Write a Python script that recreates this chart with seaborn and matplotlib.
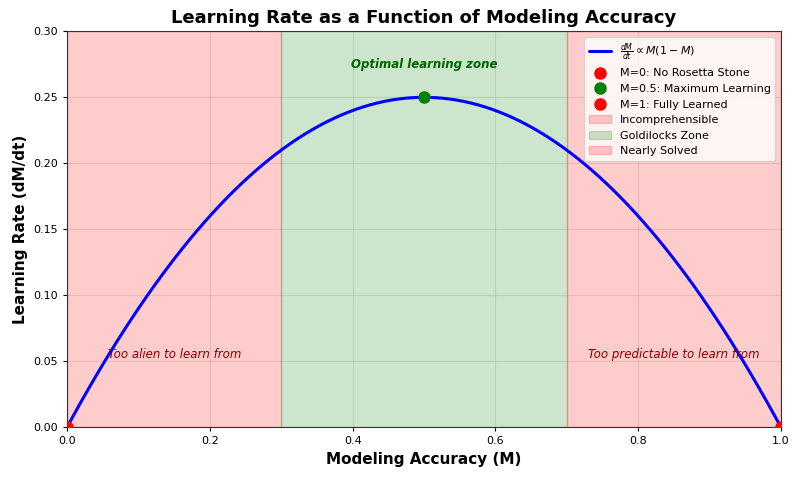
import numpy as np
import matplotlib
matplotlib.use("Agg")
import matplotlib.pyplot as plt
import seaborn as sns

# zones along modeling accuracy
zone_names = ["Incomprehensible", "Goldilocks Zone", "Nearly Solved"]
zone_edges = [(0.0, 0.3), (0.3, 0.7), (0.7, 1.0)]
zone_colors = ["red", "green", "red"]

# key points on the curve
point_m = [0.0, 0.5, 1.0]
point_labels = ["M=0: No Rosetta Stone", "M=0.5: Maximum Learning", "M=1: Fully Learned"]
point_colors = ["red", "green", "red"]

M = np.linspace(0, 1, 100)
rate = M * (1 - M)

sns.set_style("whitegrid")
plt.rcParams["font.family"] = ["DejaVu Sans"]
plt.rcParams["text.color"] = "black"
plt.rcParams["axes.labelcolor"] = "black"
plt.rcParams["xtick.color"] = "black"
plt.rcParams["ytick.color"] = "black"

fig, ax = plt.subplots(figsize=(8, 4.83), dpi=100)

for (a, b), name, c in zip(zone_edges, zone_names, zone_colors):
    ax.axvspan(a, b, color=c, alpha=0.2, label=name)

sns.lineplot(x=M, y=rate, ax=ax, color="blue", linewidth=2.2,
             label=r"$\frac{dM}{dt} \propto M(1-M)$")

for m, lab, c in zip(point_m, point_labels, point_colors):
    ax.plot(m, m * (1 - m), "o", color=c, markersize=8, label=lab, zorder=5)

ax.text(0.15, 0.05, "Too alien to learn from", color="darkred", style="italic",
        ha="center", va="bottom", fontsize=8.5)
ax.text(0.85, 0.05, "Too predictable to learn from", color="darkred", style="italic",
        ha="center", va="bottom", fontsize=8.5)
ax.text(0.5, 0.27, "Optimal learning zone", color="darkgreen", style="italic",
        fontweight="bold", ha="center", va="bottom", fontsize=8.5)

ax.set_xlim(0, 1)
ax.set_ylim(0, 0.3)
ax.set_xlabel("Modeling Accuracy (M)", fontsize=11, fontweight="bold")
ax.set_ylabel("Learning Rate (dM/dt)", fontsize=11, fontweight="bold")
ax.set_title("Learning Rate as a Function of Modeling Accuracy", fontsize=13, fontweight="bold")
ax.tick_params(labelsize=8, left=True, bottom=True, length=3)
ax.grid(True, alpha=0.3, color="#b0b0b0")
for s in ax.spines.values():
    s.set_color("#333333")

h, l = ax.get_legend_handles_labels()
order = [3, 4, 5, 6, 0, 1, 2]
leg = ax.legend([h[i] for i in order], [l[i] for i in order], loc="upper right",
                fontsize=8, frameon=True)
leg.get_frame().set_edgecolor("#cccccc")

fig.subplots_adjust(left=0.084, right=0.976, top=0.935, bottom=0.116)
fig.savefig("out.png", dpi=100)
